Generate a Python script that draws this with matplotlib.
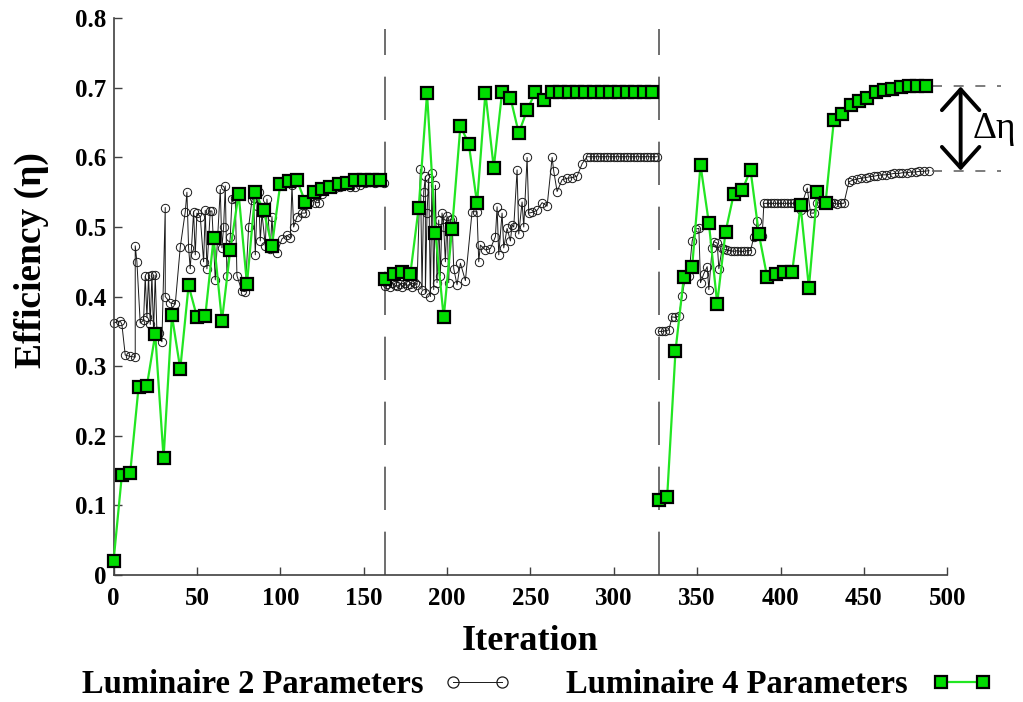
import numpy as np
import matplotlib
matplotlib.use('Agg')
import matplotlib.pyplot as plt
from matplotlib.ticker import FuncFormatter
from matplotlib.legend_handler import HandlerLine2D

# Luminaire 4 parameters: one value every 5 iterations, three runs
lum4_iter1 = np.arange(0, 161, 5)
lum4_eff1 = [0.02, 0.144, 0.147, 0.27, 0.272, 0.346, 0.168, 0.373, 0.296, 0.416,
             0.371, 0.372, 0.484, 0.365, 0.467, 0.548, 0.418, 0.550, 0.524, 0.473,
             0.562, 0.566, 0.567, 0.536, 0.550, 0.555, 0.558, 0.562, 0.563, 0.567,
             0.568, 0.567, 0.568]
lum4_iter2 = np.arange(163, 324, 5)
lum4_eff2 = [0.425, 0.433, 0.436, 0.433, 0.528, 0.692, 0.492, 0.370, 0.497, 0.645,
             0.620, 0.534, 0.693, 0.585, 0.694, 0.686, 0.635, 0.668, 0.694, 0.683,
             0.694, 0.694, 0.694, 0.694, 0.694, 0.694, 0.694, 0.694, 0.694, 0.694,
             0.694, 0.694, 0.694]
lum4_iter3 = np.arange(327, 488, 5)
lum4_eff3 = [0.108, 0.112, 0.322, 0.428, 0.443, 0.589, 0.506, 0.390, 0.493, 0.548,
             0.553, 0.582, 0.490, 0.428, 0.433, 0.435, 0.436, 0.531, 0.413, 0.550,
             0.535, 0.654, 0.663, 0.676, 0.681, 0.686, 0.694, 0.697, 0.699, 0.701,
             0.702, 0.702, 0.702]

# Luminaire 2 parameters (irregular iterations)
lum2_iter1 = [0, 4, 5, 7, 10, 13, 13, 14, 16, 18, 19, 20, 21, 22, 23, 24, 25, 26, 27, 29,
              31, 31, 34, 37, 40, 43, 44, 45, 46, 48, 49, 50, 52, 54, 55, 56, 58, 59, 61, 64,
              65, 66, 67, 68, 70, 71, 73, 74, 77, 79, 81, 83, 84, 85, 86, 87, 88, 89, 91, 92,
              94, 95, 96, 98, 101, 104, 106, 107, 108, 110, 113, 115, 117, 119, 121, 123, 125, 127, 130, 133,
              136, 139, 142, 145, 148, 151, 154, 157, 160, 162]
lum2_eff1 = [0.362, 0.365, 0.360, 0.316, 0.314, 0.313, 0.473, 0.45, 0.362, 0.366,
             0.429, 0.37, 0.43, 0.36, 0.431, 0.35, 0.431, 0.35, 0.347, 0.335,
             0.528, 0.40, 0.391, 0.389, 0.471, 0.522, 0.55, 0.47, 0.44, 0.522,
             0.46, 0.52, 0.515, 0.45, 0.524, 0.44, 0.523, 0.523, 0.424, 0.554,
             0.47, 0.50, 0.559, 0.43, 0.486, 0.54, 0.541, 0.43, 0.408, 0.407,
             0.50, 0.539, 0.542, 0.46, 0.53, 0.55, 0.48, 0.52, 0.473, 0.54,
             0.468, 0.515, 0.47, 0.463, 0.483, 0.488, 0.484, 0.56, 0.50, 0.515,
             0.52, 0.52, 0.535, 0.545, 0.535, 0.535, 0.548, 0.555, 0.561, 0.556,
             0.558, 0.561, 0.558, 0.558, 0.560, 0.563, 0.565, 0.563, 0.565, 0.563]
lum2_iter2 = [163, 164, 166, 167, 169, 170, 172, 173, 175, 176, 178, 179, 181, 182, 184, 185, 186, 187, 187, 188,
              189, 190, 191, 192, 193, 194, 195, 196, 197, 198, 199, 200, 201, 202, 203, 204, 206, 208, 211, 215,
              218, 219, 220, 223, 226, 229, 230, 231, 233, 234, 236, 238, 239, 240, 242, 243, 245, 246, 248, 249,
              251, 254, 257, 260, 263, 264, 266, 269, 272, 275, 278, 281, 284, 286, 288, 290, 292, 294, 296, 298,
              300, 302, 304, 306, 308, 310, 312, 314, 316, 318, 320, 322, 324, 326]
lum2_eff2 = [0.415, 0.418, 0.414, 0.42, 0.416, 0.415, 0.418, 0.414, 0.42, 0.416,
             0.418, 0.414, 0.42, 0.417, 0.583, 0.41, 0.55, 0.573, 0.405, 0.52,
             0.57, 0.40, 0.577, 0.41, 0.56, 0.42, 0.51, 0.43, 0.52, 0.50,
             0.45, 0.516, 0.42, 0.51, 0.512, 0.44, 0.417, 0.448, 0.423, 0.522,
             0.522, 0.45, 0.474, 0.467, 0.469, 0.486, 0.529, 0.46, 0.52, 0.47,
             0.498, 0.48, 0.503, 0.50, 0.582, 0.49, 0.536, 0.50, 0.600, 0.52,
             0.521, 0.524, 0.535, 0.530, 0.600, 0.58, 0.551, 0.568, 0.570, 0.571,
             0.573, 0.591, 0.601, 0.601, 0.601, 0.601, 0.601, 0.601, 0.601, 0.601,
             0.601, 0.601, 0.601, 0.601, 0.601, 0.601, 0.601, 0.601, 0.601, 0.601,
             0.601, 0.601, 0.601, 0.601]
lum2_iter3 = [327, 329, 331, 333, 335, 337, 339, 341, 343, 345, 347, 349, 351, 352, 354, 356, 357, 359, 360, 362,
              363, 365, 366, 368, 370, 372, 374, 376, 378, 380, 382, 384, 385, 386, 387, 389, 390, 392, 394, 396,
              398, 400, 402, 404, 406, 408, 410, 412, 413, 416, 418, 420, 422, 424, 426, 428, 430, 432, 434, 436,
              438, 441, 443, 446, 448, 451, 453, 456, 458, 461, 463, 466, 468, 471, 473, 476, 478, 481, 483, 486,
              489]
lum2_eff3 = [0.350, 0.35, 0.351, 0.352, 0.371, 0.370, 0.372, 0.401, 0.429, 0.43,
             0.48, 0.497, 0.498, 0.42, 0.433, 0.443, 0.41, 0.47, 0.479, 0.477,
             0.44, 0.47, 0.468, 0.467, 0.466, 0.465, 0.466, 0.465, 0.465, 0.466,
             0.466, 0.486, 0.49, 0.509, 0.49, 0.487, 0.534, 0.534, 0.534, 0.534,
             0.534, 0.534, 0.534, 0.534, 0.534, 0.534, 0.534, 0.524, 0.534, 0.556,
             0.52, 0.52, 0.535, 0.534, 0.534, 0.533, 0.534, 0.534, 0.533, 0.534,
             0.534, 0.565, 0.567, 0.569, 0.570, 0.571, 0.572, 0.573, 0.574, 0.575,
             0.575, 0.576, 0.577, 0.577, 0.578, 0.578, 0.579, 0.579, 0.580, 0.580,
             0.581]

run_starts = [163, 327]

plt.rcParams['font.family'] = ['Liberation Serif', 'DejaVu Serif']
plt.rcParams['font.weight'] = 'bold'

fig = plt.figure(figsize=(10.23, 7.02), dpi=100)
ax = fig.add_axes([0.111, 0.181, 0.815, 0.793])

lum2_runs = [(lum2_iter1, lum2_eff1), (lum2_iter2, lum2_eff2), (lum2_iter3, lum2_eff3)]
lum4_runs = [(lum4_iter1, lum4_eff1), (lum4_iter2, lum4_eff2), (lum4_iter3, lum4_eff3)]

for xs, ys in lum2_runs:
    h2, = ax.plot(xs, ys, color='#1a1a1a', lw=0.7, marker='o', ms=6, mfc='none',
                  mec='#1a1a1a', mew=0.7, zorder=2, clip_on=False)
for xs, ys in lum4_runs:
    h4, = ax.plot(xs, ys, color='#22e622', lw=1.6, marker='s', ms=8.5, mfc='#00dc00',
                  mec='black', mew=1.6, zorder=3, clip_on=False)

for xr in run_starts:
    ax.axvline(xr, ymin=0, ymax=0.98, color='#555555', lw=1.2, dashes=(26, 13), zorder=1)

# delta eta marker on the right
top = lum4_eff3[-1]
bot = lum2_eff3[-1]
ax.hlines([top, bot], 491, 532, colors='#666666', lw=1.2, linestyles=(0, (6, 7)), clip_on=False)
ax.annotate('', xy=(508, top), xytext=(508, bot), annotation_clip=False,
            arrowprops=dict(arrowstyle='<->, head_length=0.5, head_width=0.45', lw=2.8,
                            color='black', mutation_scale=30, shrinkA=0, shrinkB=0))
ax.text(515, (top + bot) / 2, 'Δη', fontsize=27, fontweight='normal', va='center', ha='left')

ax.set_xlim(0, 500)
ax.set_ylim(0, 0.8)
ax.set_xticks(np.arange(0, 501, 50))
ax.set_yticks(np.arange(0, 0.81, 0.1))
ax.yaxis.set_major_formatter(FuncFormatter(lambda v, p: f'{v:g}'))
ax.tick_params(direction='in', length=6, width=1, colors='#404040', labelcolor='black', labelsize=18)
ax.tick_params(axis='x', pad=9)
ax.tick_params(axis='y', pad=5)
for s in ['top', 'right']:
    ax.spines[s].set_visible(False)
for s in ['left', 'bottom']:
    ax.spines[s].set_color('#404040')
    ax.spines[s].set_linewidth(1.2)

ax.set_xlabel('Iteration', fontsize=26, fontweight='bold')
ax.set_ylabel('Efficiency (η)', fontsize=27, fontweight='bold')
ax.xaxis.set_label_coords(0.5, -0.09)
ax.yaxis.set_label_coords(-0.077, 0.566)

leg = ax.legend([h2, h4], ['Luminaire 2 Parameters', 'Luminaire 4 Parameters'],
                loc='lower center', bbox_to_anchor=(0.535, -0.021), bbox_transform=fig.transFigure,
                ncol=2, frameon=False, markerfirst=False, handlelength=3.1, borderpad=0,
                handletextpad=0.12, columnspacing=1.15, prop={'weight': 'bold', 'size': 23.5},
                handler_map={h2: HandlerLine2D(numpoints=2, marker_pad=0.8),
                             h4: HandlerLine2D(numpoints=2, marker_pad=0.9)})
leg.legend_handles[0].set_markersize(8)
leg.legend_handles[0].set_markeredgewidth(0.9)

fig.savefig('out.png', dpi=100)
